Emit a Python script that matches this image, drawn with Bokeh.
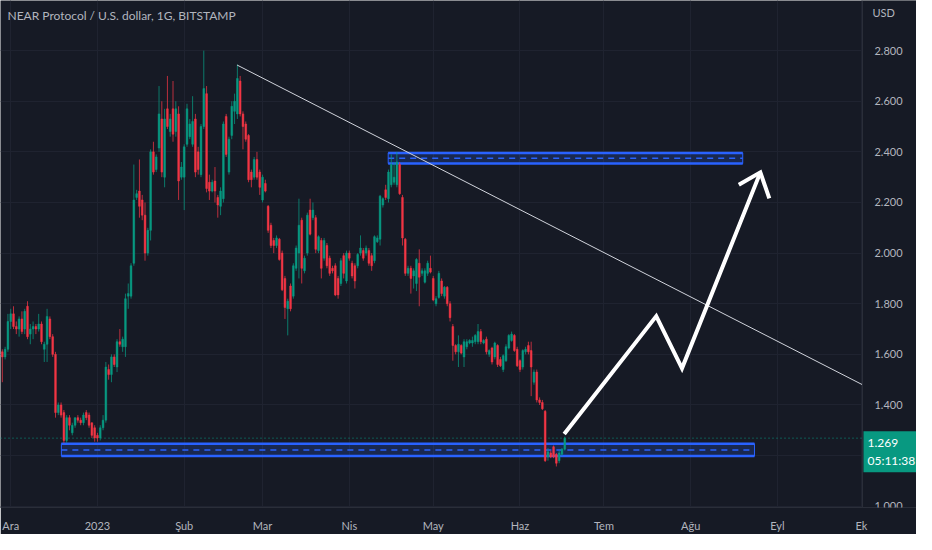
from bokeh.plotting import figure
from bokeh.models import ColumnDataSource, FixedTicker, PrintfTickFormatter, Label, Range1d
from bokeh.embed import file_html
from bokeh.resources import INLINE

# ---------------- data ----------------
first_day = -3  # day index, 0 = 1 Dec 2022
opens = [
    1.61, 1.59, 1.62, 1.73, 1.76, 1.71, 1.70, 1.74, 1.70, 1.79,
    1.68, 1.70, 1.71, 1.70, 1.72, 1.62, 1.64, 1.74, 1.67, 1.60,
    1.37, 1.40, 1.37, 1.26, 1.35, 1.29, 1.32, 1.35, 1.34, 1.33,
    1.37, 1.36, 1.33, 1.31, 1.28, 1.27, 1.31, 1.34, 1.54, 1.52,
    1.59, 1.55, 1.65, 1.63, 1.63, 1.83, 1.83, 1.96, 2.22, 2.245,
    2.21, 2.15, 2.00, 2.09, 2.40, 2.33, 2.415, 2.53, 2.30, 2.57,
    2.48, 2.57, 2.48, 2.55, 2.30, 2.30, 2.43, 2.46, 2.43, 2.53,
    2.40, 2.31, 2.50, 2.63, 2.28, 2.245, 2.285, 2.22, 2.185, 2.215,
    2.54, 2.32, 2.465, 2.56, 2.55, 2.68, 2.55, 2.51, 2.465, 2.32,
    2.30, 2.37, 2.32, 2.21, 2.275, 2.185, 2.11, 2.05, 2.03, 2.055,
    2.00, 1.90, 1.78, 1.87, 1.83, 1.94, 2.00, 2.13, 1.93, 2.00,
    2.17, 2.14, 2.14, 2.01, 2.05, 1.98, 2.03, 1.98, 1.94, 1.95,
    1.90, 1.88, 1.99, 1.89, 2.00, 1.96, 1.95, 1.95, 2.00, 2.01,
    2.00, 2.01, 1.99, 1.97, 2.045, 2.055, 2.19, 2.25, 2.215, 2.27,
    2.28, 2.27, 2.35, 2.22, 2.055, 1.92, 1.94, 1.91, 1.88, 1.96,
    1.92, 1.885, 1.92, 1.94, 1.90, 1.80, 1.825, 1.89, 1.83, 1.865,
    1.80, 1.71, 1.635, 1.61, 1.635, 1.59, 1.63, 1.645, 1.645, 1.65,
    1.65, 1.69, 1.645, 1.66, 1.60, 1.625, 1.59, 1.635, 1.58, 1.54,
    1.575, 1.625, 1.655, 1.675, 1.62, 1.575, 1.55, 1.61, 1.635, 1.615,
    1.49, 1.53, 1.42, 1.41, 1.375, 1.195, 1.21, 1.235, 1.205, 1.18,
    1.205, 1.225,
]
highs = [
    1.62, 1.63, 1.76, 1.78, 1.79, 1.73, 1.75, 1.77, 1.78, 1.81,
    1.72, 1.73, 1.72, 1.76, 1.73, 1.65, 1.78, 1.75, 1.68, 1.61,
    1.41, 1.41, 1.38, 1.36, 1.36, 1.33, 1.35, 1.36, 1.35, 1.37,
    1.38, 1.37, 1.33, 1.32, 1.29, 1.32, 1.36, 1.57, 1.56, 1.60,
    1.60, 1.66, 1.70, 1.67, 1.84, 1.88, 1.96, 2.35, 2.25, 2.37,
    2.23, 2.20, 2.10, 2.41, 2.44, 2.39, 2.66, 2.60, 2.57, 2.70,
    2.55, 2.68, 2.60, 2.58, 2.36, 2.43, 2.59, 2.53, 2.62, 2.55,
    2.42, 2.51, 2.80, 2.66, 2.31, 2.29, 2.34, 2.23, 2.26, 2.52,
    2.55, 2.46, 2.60, 2.63, 2.745, 2.70, 2.56, 2.52, 2.47, 2.33,
    2.38, 2.40, 2.33, 2.31, 2.29, 2.19, 2.12, 2.06, 2.07, 2.06,
    2.01, 1.91, 1.82, 1.88, 1.96, 2.03, 2.215, 2.14, 1.99, 2.16,
    2.215, 2.20, 2.15, 2.07, 2.06, 2.06, 2.04, 1.99, 1.95, 1.96,
    1.91, 1.98, 2.00, 2.01, 2.01, 1.97, 1.96, 2.00, 2.07, 2.02,
    2.03, 2.02, 2.00, 2.07, 2.07, 2.23, 2.22, 2.27, 2.33, 2.39,
    2.36, 2.40, 2.36, 2.23, 2.06, 1.95, 1.95, 1.94, 1.98, 2.015,
    1.94, 1.94, 1.97, 1.99, 1.91, 1.83, 1.93, 1.90, 1.87, 1.87,
    1.81, 1.72, 1.64, 1.675, 1.64, 1.66, 1.66, 1.66, 1.67, 1.68,
    1.72, 1.70, 1.66, 1.67, 1.62, 1.63, 1.65, 1.64, 1.59, 1.60,
    1.64, 1.68, 1.69, 1.68, 1.63, 1.58, 1.62, 1.63, 1.65, 1.65,
    1.54, 1.54, 1.43, 1.42, 1.38, 1.23, 1.22, 1.24, 1.21, 1.22,
    1.23, 1.275,
]
lows = [
    1.49, 1.58, 1.61, 1.70, 1.70, 1.68, 1.67, 1.68, 1.68, 1.66,
    1.64, 1.66, 1.68, 1.69, 1.64, 1.57, 1.57, 1.66, 1.59, 1.35,
    1.36, 1.35, 1.25, 1.25, 1.30, 1.28, 1.31, 1.33, 1.32, 1.32,
    1.34, 1.31, 1.27, 1.255, 1.255, 1.26, 1.30, 1.33, 1.50, 1.49,
    1.55, 1.53, 1.63, 1.61, 1.59, 1.78, 1.82, 1.95, 2.21, 2.14,
    2.13, 1.97, 1.99, 2.05, 2.31, 2.32, 2.40, 2.30, 2.26, 2.49,
    2.46, 2.44, 2.46, 2.21, 2.29, 2.17, 2.42, 2.45, 2.42, 2.30,
    2.31, 2.30, 2.49, 2.24, 2.21, 2.24, 2.20, 2.14, 2.15, 2.20,
    2.38, 2.31, 2.45, 2.51, 2.53, 2.54, 2.41, 2.44, 2.28, 2.26,
    2.29, 2.29, 2.23, 2.20, 2.24, 2.08, 2.02, 2.00, 2.02, 1.97,
    1.85, 1.74, 1.675, 1.77, 1.82, 1.93, 1.90, 1.88, 1.92, 1.99,
    2.07, 2.13, 2.00, 2.00, 1.90, 1.97, 1.94, 1.91, 1.92, 1.83,
    1.82, 1.87, 1.90, 1.88, 1.97, 1.90, 1.86, 1.94, 1.99, 1.97,
    1.99, 1.95, 1.93, 1.96, 2.04, 2.03, 2.18, 2.21, 2.20, 2.26,
    2.27, 2.26, 2.23, 2.03, 1.91, 1.91, 1.84, 1.86, 1.85, 1.79,
    1.91, 1.88, 1.91, 1.92, 1.81, 1.79, 1.82, 1.83, 1.82, 1.79,
    1.73, 1.575, 1.60, 1.55, 1.60, 1.55, 1.62, 1.64, 1.63, 1.64,
    1.64, 1.64, 1.64, 1.60, 1.59, 1.56, 1.58, 1.55, 1.55, 1.53,
    1.57, 1.62, 1.65, 1.61, 1.55, 1.53, 1.54, 1.60, 1.60, 1.435,
    1.48, 1.41, 1.40, 1.38, 1.175, 1.18, 1.19, 1.19, 1.157, 1.17,
    1.20, 1.22,
]
closes = [
    1.59, 1.62, 1.73, 1.76, 1.71, 1.70, 1.74, 1.69, 1.77, 1.67,
    1.70, 1.71, 1.70, 1.72, 1.65, 1.64, 1.75, 1.67, 1.60, 1.37,
    1.40, 1.36, 1.26, 1.35, 1.32, 1.32, 1.35, 1.34, 1.33, 1.36,
    1.35, 1.32, 1.28, 1.27, 1.27, 1.31, 1.34, 1.55, 1.52, 1.59,
    1.56, 1.65, 1.64, 1.66, 1.82, 1.84, 1.95, 2.21, 2.235, 2.185,
    2.15, 2.00, 2.09, 2.40, 2.32, 2.38, 2.55, 2.32, 2.53, 2.50,
    2.53, 2.47, 2.57, 2.285, 2.34, 2.42, 2.57, 2.51, 2.52, 2.32,
    2.33, 2.50, 2.65, 2.255, 2.245, 2.28, 2.245, 2.19, 2.245, 2.51,
    2.39, 2.45, 2.58, 2.60, 2.69, 2.55, 2.50, 2.45, 2.29, 2.29,
    2.37, 2.30, 2.26, 2.30, 2.245, 2.09, 2.03, 2.03, 2.06, 1.975,
    1.855, 1.785, 1.81, 1.78, 1.95, 2.02, 2.11, 1.94, 1.98, 2.15,
    2.075, 2.17, 2.015, 2.065, 1.94, 2.05, 1.95, 1.92, 1.93, 1.835,
    1.835, 1.97, 1.92, 2.00, 1.98, 1.91, 1.89, 1.995, 2.02, 1.98,
    2.02, 1.96, 1.95, 2.065, 2.06, 2.225, 2.215, 2.22, 2.32, 2.35,
    2.30, 2.36, 2.235, 2.06, 1.92, 1.94, 1.90, 1.93, 1.975, 1.905,
    1.93, 1.93, 1.96, 1.925, 1.815, 1.82, 1.92, 1.84, 1.865, 1.80,
    1.745, 1.635, 1.61, 1.64, 1.605, 1.65, 1.65, 1.655, 1.655, 1.675,
    1.69, 1.65, 1.655, 1.61, 1.615, 1.57, 1.645, 1.56, 1.555, 1.595,
    1.63, 1.675, 1.68, 1.615, 1.555, 1.54, 1.615, 1.62, 1.61, 1.55,
    1.53, 1.42, 1.41, 1.385, 1.18, 1.215, 1.195, 1.195, 1.17, 1.21,
    1.225, 1.269,
]

month_days = [0, 31, 62, 90, 121, 151, 182, 212, 243, 274, 304]
month_labels = ["Ara", "2023", "Şub", "Mar", "Nis", "May", "Haz", "Tem", "Ağu", "Eyl", "Ek"]
price_ticks = [1.0, 1.2, 1.4, 1.6, 1.8, 2.0, 2.2, 2.4, 2.6, 2.8]

# visible window: chart area, then the price-scale strip on the right
day_start, day_end, scale_end = -3.65, 304.4, 323.7
price_low, price_high = 0.995, 2.998

# drawings (day index, price)
zone_left = [134.9, 18.1]
zone_right = [261.6, 265.8]
zone_top = [2.396, 1.247]
zone_bottom = [2.354, 1.198]
trend_days = [80.9, 304.4]
trend_prices = [2.743, 1.48]
arrow_days = [197.8, 230.7, 239.9, 267.9]
arrow_prices = [1.285, 1.751, 1.545, 2.319]
head_days = [260.2, 267.9, 271.1]
head_prices = [2.270, 2.319, 2.216]
countdown = "05:11:38"

# ---------------- styling ----------------
BG = "#161a25"
GRID = "#1f2330"
TXT = "#b2b5be"
UP = "#089981"
DOWN = "#f23645"
BLUE = "#2962ff"
FONT = "Lato"

days = list(range(first_day, first_day + len(closes)))
colors = [UP if c >= o else DOWN for o, c in zip(opens, closes)]
src = ColumnDataSource(dict(
    d=days, o=opens, h=highs, l=lows, c=closes,
    top=[max(o, c) for o, c in zip(opens, closes)],
    bot=[min(o, c) for o, c in zip(opens, closes)],
    color=colors,
))

p = figure(width=916, height=534, output_backend="svg", toolbar_location=None,
           x_range=Range1d(day_start, scale_end), y_range=Range1d(price_low, price_high),
           y_axis_location="right",
           min_border_left=0, min_border_top=0, min_border_right=0, min_border_bottom=25,
           background_fill_color=BG, border_fill_color=BG)
p.outline_line_color = None

# axes
p.xaxis.ticker = FixedTicker(ticks=month_days)
p.xaxis.major_label_overrides = {d: lab for d, lab in zip(month_days, month_labels)}
p.yaxis.ticker = FixedTicker(ticks=price_ticks)
p.yaxis.formatter = PrintfTickFormatter(format="%.3f")
p.yaxis.fixed_location = day_end
for ax in (p.xaxis, p.yaxis):
    ax.major_tick_line_color = None
    ax.minor_tick_line_color = None
    ax.axis_line_color = "#2a2e39"
    ax.major_label_text_color = TXT
    ax.major_label_text_font = FONT
    ax.major_label_text_font_size = "11px"
p.xaxis.major_label_standoff = 5
p.yaxis.major_label_standoff = 6
p.xgrid.ticker = FixedTicker(ticks=month_days)
p.ygrid.ticker = FixedTicker(ticks=price_ticks)
p.grid.grid_line_color = GRID

# price-scale strip background (hides grid there)
p.quad(left=[day_end], right=[scale_end], bottom=[price_low], top=[price_high],
       fill_color=BG, line_color=None)

# zones
p.quad(left=zone_left, right=zone_right, top=zone_top, bottom=zone_bottom,
       fill_color=BLUE, fill_alpha=0.2, line_color=BLUE, line_width=1)
p.segment(x0=zone_left, x1=zone_right, y0=zone_top, y1=zone_top, line_color=BLUE, line_width=2.5)
p.segment(x0=zone_left, x1=zone_right, y0=zone_bottom, y1=zone_bottom, line_color=BLUE, line_width=2.5)
zone_mid = [(a + b) / 2 for a, b in zip(zone_top, zone_bottom)]
p.segment(x0=zone_left, x1=zone_right, y0=zone_mid, y1=zone_mid, line_color=BLUE,
          line_width=1.5, line_dash="6 5")

# current price line
p.segment(x0=[day_start], x1=[day_end], y0=[closes[-1]], y1=[closes[-1]],
          line_color=UP, line_dash="1 3", line_width=1)

# candles
p.segment(x0="d", x1="d", y0="h", y1="l", line_color="color", line_alpha=0.75, line_width=1, source=src)
p.vbar(x="d", width=0.62, top="top", bottom="bot", fill_color="color", line_color="color",
       line_width=0.5, source=src)

# trend line & arrow
p.line(trend_days, trend_prices, line_color="#d1d4dc", line_width=1)
p.line(arrow_days, arrow_prices, line_color="white", line_width=4, line_join="miter")
p.line(head_days, head_prices, line_color="white", line_width=4, line_join="miter")

# texts
p.add_layout(Label(x=day_start, y=price_high, x_offset=7, y_offset=-22,
                   text="NEAR Protocol / U.S. dollar, 1G, BITSTAMP",
                   text_color=TXT, text_font=FONT, text_font_size="12px"))
p.add_layout(Label(x=day_end, y=price_high, x_offset=10, y_offset=-18, text="USD",
                   text_color=TXT, text_font=FONT, text_font_size="11px"))
p.add_layout(Label(x=day_end, y=closes[-1], x_offset=1, y_offset=7, text_baseline="top",
                   text="%.3f\n%s" % (closes[-1], countdown),
                   text_color="white", text_font=FONT, text_font_size="12px",
                   background_fill_color=UP, padding=4))

open("out.html", "w").write(file_html(p, INLINE))
